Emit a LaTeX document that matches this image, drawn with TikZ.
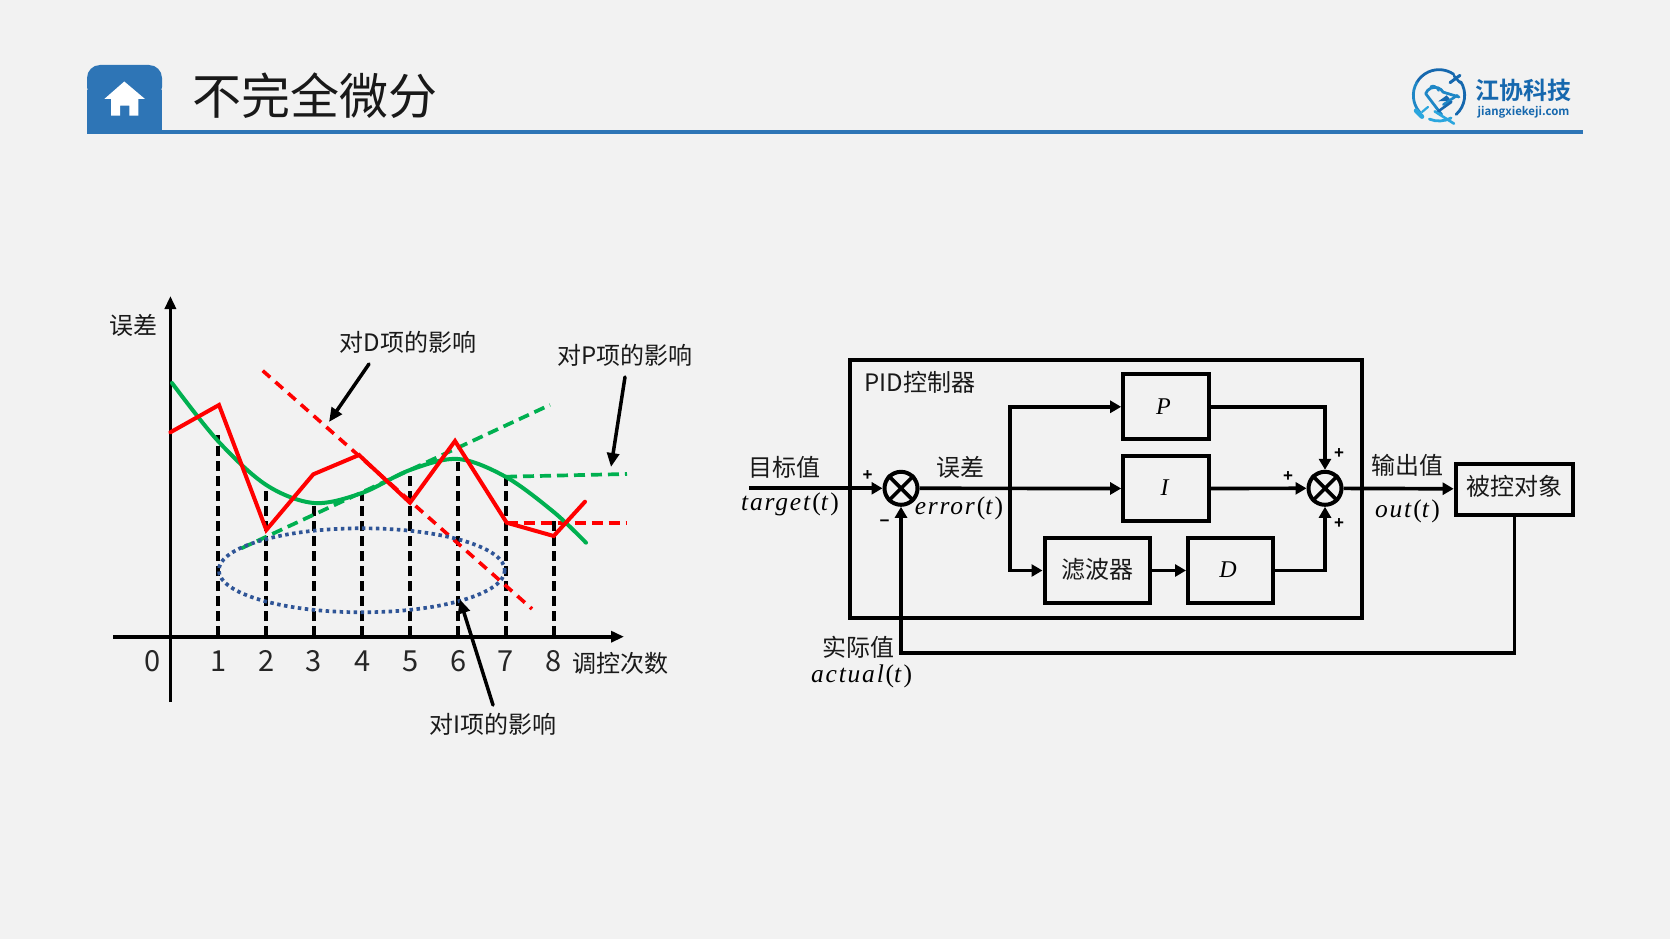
\documentclass[tikz,border=0pt]{standalone}
\usepackage{fontspec}
\setmainfont{Liberation Serif}
\newfontfamily\cjk{Noto Sans CJK SC}
\newfontfamily\cjkb{Noto Sans CJK SC}[BoldFont={* Bold}]
\newfontfamily\lat{Liberation Sans}
\newfontfamily\mathf{Liberation Serif}[LetterSpace=7]
\usetikzlibrary{arrows.meta,calc}
\definecolor{bg}{HTML}{F2F2F2}
\definecolor{hdr}{HTML}{2E75B6}
\definecolor{gr}{HTML}{00B050}
\definecolor{rd}{HTML}{FF0000}
\definecolor{bl}{HTML}{2F5597}
\definecolor{lgd}{HTML}{1668AE}
\definecolor{lgm}{HTML}{1F87C6}
\definecolor{lgl}{HTML}{2BA6DE}
\tikzset{
  lab/.style={font=\cjk\fontsize{24}{24}\selectfont,inner sep=0pt,text=black!90},
  digit/.style={font=\cjk\fontsize{29}{29}\selectfont,inner sep=0pt,text=black!85},
  mathlab/.style={font=\mathf\fontsize{25.5}{25}\selectfont\itshape,inner sep=0pt},
  sign/.style={font=\lat\bfseries\fontsize{17}{17}\selectfont,inner sep=0pt},
  blockbox/.style={draw=black,line width=4pt,inner sep=0pt,fill=bg},
  sumnode/.style={draw=black,line width=4pt,circle,minimum size=33pt,inner sep=0pt,fill=bg},
  conn/.style={line width=3.7pt,-{Triangle[length=11pt,width=12pt]}},
  tick/.style={line width=3.7pt,dash pattern=on 10pt off 5pt},
  ann/.style={line width=3.5pt,-{Triangle[length=14pt,width=12pt]},line cap=round},
  axisline/.style={line width=3.7pt,-{Triangle[length=13pt,width=11pt]}},
}
\begin{document}
\begin{tikzpicture}[x=1pt,y=-1pt]
\useasboundingbox (0,0) rectangle (1670,939);
\fill[bg] (0,0) rectangle (1670,939);
% header
\fill[hdr,rounded corners=13pt] (87,100) -- (87,65) -- (162,65) -- (162,100) -- cycle;
\fill[hdr] (87,90) rectangle (162,134);
\fill[hdr] (162,130) rectangle (1583,134);
\fill[white] (124.3,81.5) -- (145,99) -- (138.3,99) -- (138.3,115.7) -- (129.3,115.7) -- (129.3,105.7) -- (120,105.7) -- (120,115.7) -- (111,115.7) -- (111,99) -- (104.3,99) -- cycle;
\node[font=\cjk\fontsize{49}{49}\selectfont,inner sep=0pt,text=black!90] (title) at (314.5,96) {不完全微分};
% logo (drawn in crop units: 3 units = 1 px)
\begin{scope}[shift={(1404,62)},x=0.3333pt,y=-0.3333pt,line cap=round,line join=round]
\draw[lgd,line width=2.8pt] (105,100) ++(-55:77) arc[start angle=-55,end angle=-150,radius=77];
\draw[lgm,line width=2.8pt] (105,100) ++(-150:77) arc[start angle=-150,end angle=-222,radius=77];
\draw[lgl,line width=2.8pt] (105,100) ++(112:77) arc[start angle=112,end angle=62,radius=77];
\draw[lgd,line width=2.8pt] (105,100) ++(-32:77) arc[start angle=-32,end angle=48,radius=77];
\draw[lgd,line width=3pt] (138,62) -- (168,40);
\draw[lgd,line width=2.6pt] (150,42) -- (168,62);
\draw[lgm,line width=2.8pt] (113,158) -- (65,95) arc[start angle=-160,end angle=-30,radius=29] -- (165,105);
\draw[lgm,line width=2.2pt] (80,74) .. controls (88,68) and (98,74) .. (104,86);
\fill[lgd] (103,118) -- (128,100) -- (142,116) -- cycle;
\draw[lgm,line width=2.6pt] (118,128) -- (160,100);
\draw[lgd,line width=2.6pt] (100,150) -- (142,120);
\draw[lgl,line width=2.6pt] (92,148) -- (150,185);
\draw[lgl,line width=4.5pt] (36,146) -- (54,164);
\draw[lgl,line width=2.2pt] (54,150) -- (72,135);
\end{scope}
\node[font=\cjkb\bfseries\fontsize{24}{24}\selectfont,inner sep=0pt,text=lgd] (brand) at (1523.5,90.5) {江协科技};
\node[font=\cjkb\bfseries\fontsize{11.4}{13}\selectfont,inner sep=0pt,text=lgd] (site) at (1523.5,112.5) {jiangxiekeji.com};
% ---------- chart ----------
\foreach \x/\t in {218.2/435,266.3/485,314/503,362.2/493,410/472,458.2/462,505.9/477,553.7/517}
  \draw[tick] (\x,636) -- (\x,\t);
\draw[axisline] (170.4,702) -- (170.4,296);
\draw[axisline] (113,636.7) -- (624,636.7);
\draw[gr,line width=3.7pt,dash pattern=on 11pt off 6pt] (241.4,548.3) -- (550,404.9);
\draw[gr,line width=3.7pt,dash pattern=on 11pt off 6pt] (506,476.7) -- (627,474);
\draw[rd,line width=3.6pt,dash pattern=on 10pt off 7pt] (262.7,370.7) -- (532,608.9);
\draw[rd,line width=4pt,dash pattern=on 11pt off 6pt] (506.7,522.7) -- (627,522.7);
\draw[bl,line width=3.7pt,dash pattern=on 3.5pt off 3.5pt] (361.8,570.3) ellipse[x radius=143,y radius=42];
\draw[gr,line width=4pt,line cap=round] plot[smooth,tension=0.55] coordinates {(172,383) (218,441) (266.3,485) (314,503) (362,493) (410,470) (458,459) (506,477) (553.7,512) (586,542.7)};
\draw[rd,line width=4pt,line join=miter,line cap=round] (170.4,432.3) -- (219,405) -- (266.3,530) -- (313.3,474.3) -- (359,455) -- (410,502.7) -- (455,441) -- (506.7,522.7) -- (553.7,536) -- (585,501.7);
\draw[ann] (369,364) -- (329,422);
\draw[ann] (625,377) -- (611,467);
\draw[ann] (493,705) -- (459.8,599.3);
\node[lab] (yl) at (133,325.5) {误差};
\node[lab] (ld) at (408,342) {对D项的影响};
\node[lab] (lp) at (625,355.5) {对P项的影响};
\node[lab] (li) at (493,724.5) {对I项的影响};
\node[lab] (xl) at (620,663.5) {调控次数};
\foreach \x/\d in {152.7/0,218.3/1,266.5/2,314/3,362.5/4,410.8/5,458.2/6,506/7,553.7/8}
  \node[digit] (d\d) at (\x,661) {\d};
% ---------- block diagram ----------
\draw[line width=4pt] (849.6,360) rectangle (1362,617.7);
\node[lab,anchor=west] (pidl) at (864.5,382) {PID控制器};
\coordinate (in) at (749,488.3);
\node[sumnode] (s1) at (901,488.3) {};
\node[sumnode] (s2) at (1325,488.3) {};
\node[blockbox,minimum width=85.7pt,minimum height=65pt] (P) at (1166,406.8) {};
\node[blockbox,minimum width=85.7pt,minimum height=65pt] (I) at (1166,488.5) {};
\node[blockbox,minimum width=105pt,minimum height=65.6pt] (F) at (1097,570.5) {};
\node[blockbox,minimum width=85pt,minimum height=65.6pt] (D) at (1230.5,570.5) {};
\node[blockbox,minimum width=117.5pt,minimum height=51pt] (G) at (1514.4,489) {};
\coordinate (br) at (1009.8,488.3);
\draw[conn] (in) -- (s1);
\draw[conn] (s1) -- (I);
\draw[conn] (br) |- (P.west);
\draw[conn] (br) |- (F.west);
\draw[conn] (F) -- (D);
\draw[conn] (I) -- (s2);
\draw[conn] (P.east) -| (s2);
\draw[conn] (D.east) -| (s2);
\draw[conn] (s2) -- (G);
\draw[conn] (G.south) |- (901,653.3) -- (s1);
\foreach \n in {s1,s2}{
  \draw[line width=3.6pt] (\n.45) -- (\n.225) (\n.135) -- (\n.315);
}
\node[font=\fontsize{24}{24}\selectfont\itshape,inner sep=0pt] (tp) at (1163.5,406.7) {P};
\node[font=\fontsize{24}{24}\selectfont\itshape,inner sep=0pt] (ti) at (1164.5,488) {I};
\node[font=\fontsize{24}{24}\selectfont\itshape,inner sep=0pt] (td) at (1228,570) {D};
\node[lab] (tf) at (1097.5,569.5) {滤波器};
\node[lab] (tg) at (1514,486) {被控对象};
\node[lab] (l1) at (784.5,467) {目标值};
\node[lab] (l2) at (960.4,467) {误差};
\node[lab] (l3) at (1407,465) {输出值};
\node[lab] (l4) at (858,647.5) {实际值};
\node[mathlab] (m1) at (790,504.5) {target\textup{(}t\textup{)}};
\node[mathlab] (m2) at (959,508) {error\textup{(}t\textup{)}};
\node[mathlab] (m3) at (1407.4,511) {out\textup{(}t\textup{)}};
\node[mathlab] (m4) at (861.6,676) {actual\textup{(}t\textup{)}};
\node[sign] (p1) at (867.7,475.5) {+};
\node[sign] (n1) at (884.7,523) {−};
\node[sign] (p2) at (1339,454) {+};
\node[sign] (p3) at (1288,477) {+};
\node[sign] (p4) at (1339,524) {+};
\end{tikzpicture}
\end{document}
